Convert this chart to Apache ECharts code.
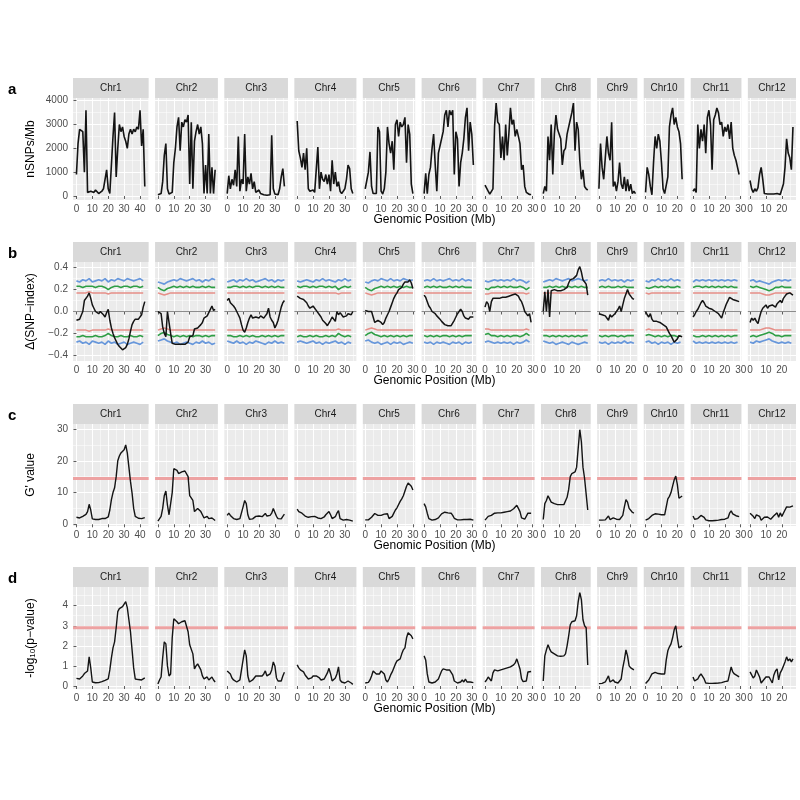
<!DOCTYPE html>
<html>
<head>
<meta charset="utf-8">
<script src="https://cdn.jsdelivr.net/npm/echarts@6/dist/echarts.min.js"></script>
<style>
  html, body { margin: 0; padding: 0; background: #fff; }
  #main { width: 800px; height: 800px; }
</style>
</head>
<body>
<div id="main"></div>
<script>
var FONT = '"Liberation Sans", Arial, sans-serif';

var chroms = ['Chr1','Chr2','Chr3','Chr4','Chr5','Chr6','Chr7','Chr8','Chr9','Chr10','Chr11','Chr12'];
var chromLen = [43.27, 35.94, 36.41, 35.50, 29.96, 31.25, 29.70, 28.44, 23.01, 23.21, 29.02, 27.53];
var xTicks = [0, 10, 20, 30, 40];
var xMinor = [5, 15, 25, 35, 45];

// a: SNP density, one value per Mb
var snpDensity = [
  [900,2200,2800,2800,2700,1000,3600,150,100,200,250,150,250,200,100,150,200,300,700,1100,300,100,100,2500,3500,800,2000,3000,2700,2900,2500,2300,2000,2600,2800,2600,2800,2700,2900,2800,3600,2100,2800,400],
  [50,80,100,600,1700,2200,300,80,50,150,1400,2000,2900,3300,1900,3100,2900,3200,3100,3400,500,3100,300,2300,2700,3000,2600,2900,2200,100,1300,100,2600,100,1200,100,1100],
  [100,850,300,700,450,1100,400,2500,200,700,500,2600,200,800,500,950,300,600,150,100,250,100,80,50,40,30,40,50,2550,300,80,40,50,300,800,1150,400],
  [3150,1900,1600,1200,1800,1100,2000,300,200,200,250,150,200,2050,300,1000,700,600,900,500,900,200,1500,500,1000,400,600,200,100,100,300,700,1300,1150,300,100],
  [300,650,1000,1850,400,100,80,100,2900,2700,200,80,300,1000,2900,2200,1800,2300,1100,3000,3200,2500,3100,2900,3000,3300,1400,3000,2600,500,100],
  [100,950,100,900,1200,2000,2600,1300,200,1800,2100,2100,2700,3400,3600,2900,3600,3400,3600,900,2700,2400,400,1400,1800,2400,3300,3700,1900,3100,2600,1300],
  [450,450,200,80,100,300,2900,3900,3100,3000,1600,2500,1500,3000,1700,2600,3700,3000,3200,2500,2800,2500,2200,1100,1300,400,150,80,60,60],
  [100,400,200,2500,1500,3000,900,2600,3400,2800,2600,2400,1300,1900,2000,2600,2900,3200,3500,3900,1900,3100,2800,1500,700,1100,400,300,250],
  [300,2200,1200,700,1600,2500,1800,1500,3100,400,600,200,600,1400,500,300,800,200,700,200,500,100,200,100],
  [150,1200,900,400,50,1400,2500,2000,2600,2300,1400,300,100,100,800,2900,3400,3700,3000,3300,2900,2700,2200,700],
  [200,300,150,3000,2000,2800,2300,3000,1800,3300,3600,3000,1100,3200,3400,3700,3500,3000,3100,2500,2900,2700,3000,2400,3100,2000,1700,1500,1200,900],
  [650,300,150,300,200,350,900,1200,700,100,100,80,100,80,100,80,80,100,80,60,100,500,1200,2400,1800,1600,1100,2900]
];

// b: delta SNP-index, one value per Mb
var deltaSnp = [
  [-0.08,-0.08,-0.07,-0.07,0.0,0.1,0.1,0.14,0.17,0.12,0.06,0.03,0.0,0.01,-0.02,0.0,-0.01,-0.03,-0.05,-0.01,0.02,-0.08,-0.15,-0.2,-0.24,-0.27,-0.3,-0.32,-0.33,-0.35,-0.34,-0.33,-0.3,-0.25,-0.18,-0.12,-0.09,-0.07,-0.07,-0.07,-0.06,-0.03,0.04,0.09],
  [0.0,0.0,-0.02,-0.14,-0.2,-0.23,0.0,0.0,-0.2,-0.29,-0.3,-0.3,-0.3,-0.3,-0.3,-0.3,-0.3,-0.3,-0.3,-0.28,-0.23,-0.22,-0.22,-0.16,-0.15,-0.15,-0.14,-0.12,-0.1,-0.06,-0.05,-0.04,-0.01,0.02,0.05,0.01,0.02],
  [0.1,0.12,0.08,0.09,0.05,0.03,0.0,-0.03,-0.06,-0.12,-0.17,-0.19,-0.15,-0.1,-0.06,-0.03,-0.06,-0.05,-0.05,-0.05,-0.06,-0.04,-0.03,-0.06,-0.04,-0.02,0.03,-0.05,-0.08,-0.1,-0.15,-0.12,-0.08,-0.02,0.04,0.08,0.1],
  [0.14,0.13,0.12,0.12,0.11,0.12,0.08,0.05,0.03,0.03,0.05,0.03,0.01,0.0,-0.03,-0.05,-0.08,-0.09,-0.11,-0.13,-0.12,-0.08,-0.05,-0.06,-0.09,0.0,-0.03,-0.01,-0.02,-0.05,-0.05,-0.04,-0.02,-0.01,-0.03,0.0],
  [0.01,0.01,0.0,-0.01,0.0,-0.05,-0.1,-0.1,-0.08,-0.07,-0.1,-0.12,-0.1,-0.06,-0.03,0.0,0.04,0.08,0.12,0.15,0.17,0.2,0.2,0.22,0.25,0.27,0.28,0.27,0.29,0.26,0.21],
  [0.15,0.13,0.09,0.05,0.03,0.0,-0.01,-0.02,-0.04,-0.05,-0.07,-0.09,-0.1,-0.12,-0.13,-0.13,-0.13,-0.13,-0.12,-0.08,-0.05,-0.02,0.0,0.02,0.0,-0.04,-0.06,-0.05,-0.07,-0.05,-0.06,-0.05],
  [0.04,0.09,0.07,0.0,0.09,0.12,0.11,0.12,0.12,0.12,0.12,0.13,0.13,0.13,0.14,0.14,0.14,0.15,0.16,0.16,0.17,0.14,0.11,0.09,0.05,0.0,0.01,-0.04,-0.02,-0.1],
  [0.0,0.18,0.0,0.2,-0.05,0.19,0.19,0.2,0.19,0.19,0.19,0.19,0.19,0.2,0.21,0.22,0.26,0.29,0.3,0.3,0.31,0.33,0.38,0.41,0.36,0.29,0.29,0.25,0.15],
  [-0.02,-0.03,-0.03,-0.03,-0.04,-0.05,-0.08,-0.03,-0.05,-0.04,-0.02,0.0,0.02,0.05,0.0,0.06,0.12,0.16,0.2,0.16,0.14,0.12,0.11],
  [0.0,-0.03,-0.05,-0.02,-0.07,-0.09,-0.08,-0.09,-0.1,-0.1,-0.11,-0.12,-0.13,-0.14,-0.17,-0.2,-0.22,-0.25,-0.28,-0.29,-0.25,-0.22,-0.22,-0.23],
  [-0.05,-0.03,0.0,0.02,0.05,0.08,0.1,0.08,0.05,0.04,0.03,0.02,0.02,0.01,0.0,-0.01,-0.02,-0.04,-0.06,-0.01,0.03,0.07,0.1,0.13,0.13,0.11,0.1,0.1,0.09,0.09],
  [-0.1,-0.06,-0.08,-0.06,-0.09,-0.11,-0.05,0.0,0.03,0.02,0.06,0.03,0.05,0.04,0.06,0.07,0.04,0.07,0.08,0.1,0.08,0.12,0.14,0.16,0.15,0.17,0.16,0.15]
];

// b: upper confidence bounds every 2 Mb (lower bound is the mirror)
var ci99 = [
  [0.28,0.27,0.29,0.28,0.30,0.27,0.28,0.29,0.28,0.30,0.27,0.29,0.28,0.30,0.29,0.28,0.30,0.29,0.28,0.29,0.30,0.28],
  [0.27,0.26,0.25,0.27,0.28,0.29,0.28,0.30,0.29,0.28,0.29,0.30,0.28,0.29,0.27,0.29,0.28,0.30,0.29],
  [0.27,0.28,0.29,0.27,0.29,0.28,0.30,0.28,0.29,0.27,0.28,0.29,0.30,0.28,0.29,0.27,0.29,0.28,0.29],
  [0.28,0.27,0.28,0.29,0.28,0.27,0.29,0.28,0.30,0.28,0.29,0.28,0.27,0.29,0.28,0.30,0.28,0.29],
  [0.27,0.26,0.28,0.29,0.28,0.30,0.29,0.28,0.30,0.28,0.29,0.28,0.30,0.29,0.28,0.29],
  [0.28,0.29,0.28,0.30,0.28,0.29,0.28,0.29,0.30,0.28,0.29,0.28,0.30,0.28,0.29,0.28],
  [0.28,0.27,0.28,0.29,0.28,0.29,0.28,0.29,0.28,0.30,0.28,0.29,0.28,0.26,0.28],
  [0.27,0.28,0.29,0.28,0.30,0.29,0.28,0.29,0.30,0.28,0.29,0.30,0.29,0.28,0.29],
  [0.28,0.29,0.28,0.30,0.28,0.29,0.28,0.29,0.27,0.29,0.28,0.29],
  [0.28,0.27,0.29,0.28,0.30,0.28,0.29,0.28,0.30,0.28,0.29,0.28],
  [0.27,0.29,0.28,0.29,0.28,0.29,0.28,0.29,0.28,0.29,0.28,0.29,0.28,0.29,0.28],
  [0.28,0.29,0.27,0.28,0.27,0.26,0.25,0.27,0.28,0.29,0.28,0.29,0.28,0.29]
];
var ci95 = [
  [0.23,0.23,0.22,0.23,0.23,0.23,0.22,0.23,0.23,0.22,0.20,0.22,0.23,0.23,0.22,0.23,0.23,0.22,0.23,0.23,0.22,0.23],
  [0.22,0.20,0.19,0.21,0.22,0.23,0.22,0.23,0.22,0.23,0.22,0.23,0.22,0.22,0.23,0.22,0.23,0.22,0.22],
  [0.22,0.22,0.23,0.23,0.22,0.23,0.22,0.23,0.22,0.23,0.23,0.22,0.23,0.22,0.23,0.22,0.23,0.22,0.22],
  [0.23,0.22,0.23,0.23,0.22,0.23,0.22,0.23,0.23,0.22,0.23,0.22,0.23,0.20,0.22,0.23,0.22,0.23],
  [0.22,0.20,0.19,0.21,0.22,0.23,0.22,0.23,0.22,0.23,0.22,0.23,0.22,0.23,0.22,0.22],
  [0.22,0.23,0.22,0.23,0.22,0.23,0.22,0.22,0.23,0.22,0.23,0.22,0.23,0.22,0.22,0.22],
  [0.21,0.20,0.22,0.22,0.23,0.22,0.23,0.22,0.23,0.22,0.22,0.23,0.22,0.20,0.22],
  [0.22,0.22,0.23,0.22,0.23,0.22,0.23,0.22,0.23,0.22,0.23,0.22,0.23,0.22,0.22],
  [0.22,0.23,0.22,0.23,0.22,0.22,0.23,0.22,0.23,0.22,0.22,0.22],
  [0.22,0.21,0.22,0.23,0.22,0.23,0.22,0.23,0.22,0.22,0.23,0.22],
  [0.22,0.23,0.23,0.22,0.23,0.22,0.23,0.22,0.23,0.22,0.23,0.22,0.23,0.22,0.22],
  [0.23,0.22,0.23,0.22,0.21,0.20,0.19,0.20,0.22,0.22,0.23,0.22,0.22,0.22]
];
var ci90 = [
  [0.17,0.17,0.17,0.17,0.18,0.17,0.17,0.17,0.17,0.17,0.16,0.17,0.17,0.17,0.17,0.17,0.17,0.17,0.17,0.17,0.17,0.17],
  [0.17,0.16,0.15,0.16,0.17,0.17,0.17,0.17,0.17,0.17,0.17,0.17,0.17,0.17,0.17,0.17,0.17,0.17,0.17],
  [0.17,0.17,0.17,0.17,0.17,0.17,0.17,0.17,0.17,0.17,0.17,0.17,0.17,0.17,0.17,0.17,0.17,0.17,0.17],
  [0.17,0.17,0.17,0.17,0.17,0.17,0.17,0.17,0.17,0.17,0.17,0.17,0.17,0.16,0.17,0.17,0.17,0.17],
  [0.17,0.16,0.15,0.16,0.17,0.17,0.17,0.17,0.17,0.17,0.17,0.17,0.17,0.17,0.17,0.17],
  [0.17,0.17,0.17,0.17,0.17,0.17,0.17,0.17,0.17,0.17,0.17,0.17,0.17,0.17,0.17,0.17],
  [0.16,0.16,0.17,0.17,0.17,0.17,0.17,0.17,0.17,0.17,0.17,0.17,0.17,0.16,0.17],
  [0.17,0.17,0.17,0.17,0.17,0.17,0.17,0.17,0.17,0.17,0.17,0.17,0.17,0.17,0.17],
  [0.17,0.17,0.17,0.17,0.17,0.17,0.17,0.17,0.17,0.17,0.17,0.17],
  [0.17,0.16,0.17,0.17,0.17,0.17,0.17,0.17,0.17,0.17,0.17,0.17],
  [0.17,0.17,0.17,0.17,0.17,0.17,0.17,0.17,0.17,0.17,0.17,0.17,0.17,0.17,0.17],
  [0.17,0.17,0.17,0.17,0.16,0.15,0.15,0.16,0.17,0.17,0.17,0.17,0.17,0.17]
];

// c: G' value, one value per Mb
var gPrime = [
  [2.2,2.1,2.0,2.0,2.5,3.0,3.1,4.0,6.3,4.5,1.7,1.5,1.5,1.8,1.5,1.6,1.8,1.7,1.8,2.0,2.3,4.5,7.8,10.0,11.5,15.0,20.0,21.5,22.5,23.0,23.5,25.0,22.5,18.0,13.5,9.8,5.0,2.5,1.9,1.9,2.0,1.8,2.0,2.1],
  [1.0,1.5,2.5,5.0,9.0,10.5,6.0,3.0,2.5,10.0,17.5,17.8,17.0,16.0,15.5,16.5,17.0,16.8,17.0,15.0,9.0,9.0,7.5,4.0,4.5,5.0,4.8,4.0,3.0,2.0,2.0,2.5,1.8,1.5,2.0,1.5,1.2],
  [2.8,3.5,2.8,2.3,1.8,1.4,1.5,1.8,1.8,2.0,5.5,7.5,6.5,3.0,1.6,1.5,1.7,2.2,2.5,2.6,2.6,2.5,2.4,3.0,3.4,2.6,2.5,2.8,3.5,5.0,4.5,2.5,1.8,1.5,1.7,2.5,3.2],
  [4.8,4.0,3.8,3.5,3.0,2.6,2.3,2.2,2.2,2.4,2.5,2.5,2.3,2.0,2.0,1.8,2.0,2.3,3.0,3.5,4.0,3.0,1.8,2.0,2.4,3.5,4.3,1.8,1.5,1.3,1.4,1.5,1.4,1.3,1.2,1.0],
  [1.4,1.3,1.4,1.6,2.2,2.8,3.4,3.3,2.8,2.7,2.8,2.8,3.2,3.5,3.3,1.8,1.5,2.5,3.5,4.5,5.2,5.8,7.2,8.0,9.0,10.5,12.0,13.0,13.2,12.0,10.8],
  [6.5,5.5,3.5,1.8,1.4,1.3,1.4,1.5,1.6,2.0,2.6,3.3,3.6,3.8,3.7,3.6,3.6,3.5,2.8,1.9,1.6,1.4,1.3,1.4,1.8,1.5,2.0,1.5,1.8,1.6,1.4,1.3],
  [1.3,1.8,2.5,2.0,2.8,3.0,3.5,3.3,3.6,3.7,3.6,3.7,3.8,3.8,4.0,4.1,4.2,4.6,4.9,5.5,6.0,5.0,4.0,2.0,1.6,1.6,1.9,3.5,3.3,3.5],
  [1.5,6.5,7.5,9.0,8.0,7.0,6.8,6.5,6.3,6.2,6.2,6.2,6.2,6.2,6.5,8.5,11.0,15.0,16.0,16.3,16.5,18.0,24.0,29.8,26.0,18.0,14.5,14.3,4.5],
  [1.3,1.3,1.3,1.4,1.4,1.6,2.6,1.5,1.8,2.0,1.5,1.6,1.4,1.5,2.0,2.8,5.5,7.8,7.0,5.0,4.5,3.8,3.5],
  [1.3,1.4,1.8,2.2,2.8,3.2,3.3,3.2,3.2,3.0,3.0,2.8,3.0,5.5,8.0,8.8,10.0,12.0,14.0,15.2,12.5,8.2,8.8,8.9],
  [2.6,1.6,1.5,1.8,2.3,2.8,3.2,2.2,1.4,1.2,1.1,1.1,1.1,1.1,1.2,1.2,1.3,1.4,1.5,1.6,1.6,1.8,2.0,3.5,4.2,3.3,3.0,2.7,2.5,2.4],
  [3.5,3.0,2.5,1.8,3.0,3.6,2.5,1.3,1.8,2.2,2.5,2.3,1.8,1.6,1.8,2.7,3.2,3.6,2.2,3.6,2.5,3.0,4.5,5.5,6.0,5.4,6.0,5.8]
];

// d: -log10(p-value), one value per Mb
var negLogP = [
  [0.38,0.37,0.35,0.35,0.5,0.62,0.65,0.75,1.45,0.9,0.2,0.16,0.16,0.22,0.17,0.2,0.22,0.25,0.28,0.3,0.35,0.8,1.4,1.9,2.2,2.9,3.7,3.85,3.9,3.95,4.0,4.2,3.9,3.3,2.7,1.8,0.9,0.35,0.3,0.32,0.35,0.3,0.38,0.4],
  [0.1,0.3,0.45,1.4,2.2,2.1,1.0,0.5,0.6,2.4,3.35,3.3,3.2,3.1,3.05,3.2,3.25,3.25,3.2,2.7,2.05,2.0,1.6,0.85,1.0,1.1,1.05,0.8,0.5,0.35,0.3,0.45,0.3,0.25,0.45,0.3,0.2],
  [0.75,0.8,0.6,0.4,0.3,0.22,0.2,0.25,0.3,0.35,1.3,1.8,1.5,0.5,0.2,0.25,0.3,0.4,0.5,0.5,0.5,0.55,0.5,0.6,0.75,0.5,0.55,0.6,0.8,1.2,1.0,0.4,0.25,0.2,0.25,0.5,0.68],
  [1.05,0.9,0.8,0.8,0.7,0.55,0.45,0.35,0.3,0.4,0.5,0.55,0.5,0.5,0.4,0.3,0.28,0.35,0.4,0.65,0.88,0.6,0.25,0.3,0.4,0.6,0.95,0.3,0.2,0.15,0.15,0.18,0.25,0.2,0.15,0.08],
  [0.15,0.15,0.18,0.3,0.5,0.75,0.7,0.6,0.55,0.6,0.75,0.8,0.6,0.3,0.2,0.35,0.55,0.7,0.9,1.1,1.25,1.3,1.35,1.6,1.8,1.9,2.4,2.65,2.7,2.5,2.35],
  [1.5,1.3,0.6,0.2,0.15,0.15,0.17,0.2,0.25,0.35,0.55,0.75,0.85,0.8,0.8,0.8,0.8,0.85,0.55,0.25,0.2,0.15,0.15,0.2,0.3,0.2,0.35,0.2,0.25,0.2,0.15,0.17],
  [0.2,0.3,0.45,0.35,0.25,0.65,0.8,0.75,0.75,0.8,0.8,0.82,0.85,0.85,0.9,0.92,0.95,1.0,1.05,1.15,1.35,1.1,0.85,0.35,0.22,0.2,0.25,0.7,0.65,0.72],
  [0.25,1.5,1.8,2.05,1.85,1.7,1.65,1.6,1.55,1.5,1.48,1.48,1.48,1.5,1.6,2.0,2.5,3.05,3.2,3.2,3.25,3.5,4.2,4.65,4.3,3.3,3.0,2.9,1.05],
  [0.12,0.13,0.13,0.15,0.2,0.25,0.5,0.2,0.25,0.3,0.2,0.15,0.15,0.2,0.35,0.9,1.3,1.8,1.5,1.0,0.9,0.85,0.8],
  [0.12,0.2,0.3,0.45,0.6,0.65,0.68,0.65,0.62,0.6,0.6,0.55,0.6,1.3,1.75,1.95,2.1,2.4,2.8,3.0,2.4,1.9,1.95,2.0],
  [0.45,0.25,0.2,0.35,0.5,0.6,0.68,0.35,0.15,0.13,0.13,0.13,0.13,0.13,0.14,0.15,0.15,0.16,0.17,0.2,0.22,0.25,0.25,0.6,0.95,0.7,0.6,0.55,0.5,0.45],
  [0.7,0.55,0.4,0.5,0.8,0.85,0.45,0.15,0.25,0.35,0.45,0.5,0.45,0.3,0.15,0.55,0.75,0.85,0.3,0.65,0.8,1.0,1.2,1.45,1.25,1.35,1.2,1.35]
];

var gPrimeThreshold = 14.4;
var pThreshold = 2.9;
var dataStep = 1;   // Mb between points in the main tracks
var ciStep = 2;     // Mb between points in the CI tracks

// layout: panel width proportional to chromosome length (facet space = free_x)
var mbPx = 1.5895, gap = 6.4, left0 = 73;
var lefts = [], widths = [];
var acc = left0;
chromLen.forEach(function (L) {
    lefts.push(acc);
    var w = 1.1 * L * mbPx;
    widths.push(w);
    acc += w + gap;
});

function fmtPlain(v) { return String(v); }
function fmtDelta(v) { return (v < 0 ? '\u2212' : '') + Math.abs(v).toFixed(1); }

var rows = [
    { letter: 'a', top: 98, bottom: 200, min: -170, max: 4115, ticks: [0, 1000, 2000, 3000, 4000], minor: [500, 1500, 2500, 3500], fmt: fmtPlain },
    { letter: 'b', top: 262, bottom: 361, min: -0.452, max: 0.452, ticks: [-0.4, -0.2, 0, 0.2, 0.4], minor: [-0.3, -0.1, 0.1, 0.3], fmt: fmtDelta },
    { letter: 'c', top: 424, bottom: 526, min: -0.54, max: 31.6, ticks: [0, 10, 20, 30], minor: [5, 15, 25], fmt: fmtPlain },
    { letter: 'd', top: 587, bottom: 689, min: -0.15, max: 4.93, ticks: [0, 1, 2, 3, 4], minor: [0.5, 1.5, 2.5, 3.5, 4.5], fmt: fmtPlain }
];
var yTitles = ['nSNPs/Mb', '\u0394(SNP\u2212index)', "G' value", '-log{s|10}(p\u2212value)'];

function toPts(vals, step, sign) {
    return vals.map(function (v, i) { return [i * step, (sign || 1) * v]; });
}
function within(lo, hi) {
    return function (v) { return v >= lo && v <= hi; };
}

var grids = [], xAxes = [], yAxes = [], series = [], graphics = [];

rows.forEach(function (row, r) {
    chroms.forEach(function (name, c) {
        var g = grids.length;
        var L = chromLen[c];
        var xmin = -0.05 * L, xmax = 1.05 * L;
        var xt = xTicks.filter(within(xmin, xmax));
        var xm = xMinor.filter(within(xmin, xmax));
        var first = c === 0;

        grids.push({
            left: lefts[c], top: row.top, width: widths[c], height: row.bottom - row.top,
            show: true, backgroundColor: '#EBEBEB', borderWidth: 0, outerBoundsMode: 'none'
        });

        xAxes.push({
            gridIndex: g, type: 'value', min: xmin, max: xmax,
            axisLine: { show: false },
            axisTick: { show: true, length: 3, customValues: xt, lineStyle: { color: '#333', width: 0.8 } },
            axisLabel: { show: true, customValues: xt, margin: 4, color: '#4D4D4D', fontSize: 10, fontFamily: FONT, formatter: fmtPlain },
            splitLine: { show: true, lineStyle: { color: '#fff', width: 1.1 } }
        });
        xAxes.push({
            gridIndex: g, type: 'value', min: xmin, max: xmax,
            axisLine: { show: false },
            axisTick: { show: false, customValues: xm },
            axisLabel: { show: false },
            splitLine: { show: true, lineStyle: { color: '#fff', width: 0.5 } }
        });
        yAxes.push({
            gridIndex: g, type: 'value', min: row.min, max: row.max,
            axisLine: { show: false },
            axisTick: { show: first, length: 3, customValues: row.ticks, lineStyle: { color: '#333', width: 0.8 } },
            axisLabel: { show: first, customValues: row.ticks, margin: 5, color: '#4D4D4D', fontSize: 10, fontFamily: FONT, formatter: row.fmt },
            splitLine: { show: true, lineStyle: { color: '#fff', width: 1.1 } }
        });
        yAxes.push({
            gridIndex: g, type: 'value', min: row.min, max: row.max,
            axisLine: { show: false },
            axisTick: { show: false, customValues: row.minor },
            axisLabel: { show: false },
            splitLine: { show: true, lineStyle: { color: '#fff', width: 0.5 } }
        });

        var xi = 2 * g, yi = 2 * g;
        function line(data, color, width) {
            return {
                type: 'line', xAxisIndex: xi, yAxisIndex: yi, data: data,
                symbol: 'none', silent: true, animation: false,
                lineStyle: { color: color, width: width }
            };
        }

        if (r === 0) {
            series.push(line(toPts(snpDensity[c], dataStep), '#141414', 1.6));
        } else if (r === 1) {
            series.push(line([[xmin, 0], [xmax, 0]], '#8C8C8C', 1));
            series.push(line(toPts(ci90[c], ciStep), '#E68F88', 1.5));
            series.push(line(toPts(ci90[c], ciStep, -1), '#E68F88', 1.5));
            series.push(line(toPts(ci99[c], ciStep), '#6797DB', 1.7));
            series.push(line(toPts(ci99[c], ciStep, -1), '#6797DB', 1.7));
            series.push(line(toPts(ci95[c], ciStep), '#2E9E45', 1.6));
            series.push(line(toPts(ci95[c], ciStep, -1), '#2E9E45', 1.6));
            series.push(line(toPts(deltaSnp[c], dataStep), '#141414', 1.5));
        } else if (r === 2) {
            series.push(line([[xmin, gPrimeThreshold], [xmax, gPrimeThreshold]], '#EDA2A2', 3));
            series.push(line(toPts(gPrime[c], dataStep), '#141414', 1.4));
        } else {
            series.push(line([[xmin, pThreshold], [xmax, pThreshold]], '#EDA2A2', 3));
            series.push(line(toPts(negLogP[c], dataStep), '#141414', 1.4));
        }

        // facet strip
        graphics.push({
            type: 'rect', silent: true,
            shape: { x: lefts[c], y: row.top - 20, width: widths[c], height: 20 },
            style: { fill: '#D9D9D9' },
            textContent: { style: { text: name, fill: '#1A1A1A', fontSize: 10, fontFamily: FONT } },
            textConfig: { position: 'inside' }
        });
    });

    var mid = (row.top + row.bottom) / 2;
    graphics.push({
        type: 'text', x: 8, y: row.top - 8, silent: true,
        style: { text: row.letter, fontSize: 15, fontWeight: 'bold', fill: '#000', fontFamily: FONT, align: 'left', verticalAlign: 'middle' }
    });
    graphics.push({
        type: 'text', x: 31, y: mid, rotation: Math.PI / 2, silent: true,
        style: {
            text: yTitles[r], fontSize: 12, fill: '#000', fontFamily: FONT, align: 'center', verticalAlign: 'middle',
            rich: { s: { fontSize: 8, fontFamily: FONT, fill: '#000', verticalAlign: 'bottom', lineHeight: 10 } }
        }
    });
    graphics.push({
        type: 'text', x: 434.5, y: row.bottom + 20, silent: true,
        style: { text: 'Genomic Position (Mb)', fontSize: 12, fill: '#000', fontFamily: FONT, align: 'center', verticalAlign: 'middle' }
    });
});

var chart = echarts.init(document.getElementById('main'));
chart.setOption({
    animation: false,
    backgroundColor: '#fff',
    grid: grids,
    xAxis: xAxes,
    yAxis: yAxes,
    series: series,
    graphic: { elements: graphics }
});
</script>
</body>
</html>
